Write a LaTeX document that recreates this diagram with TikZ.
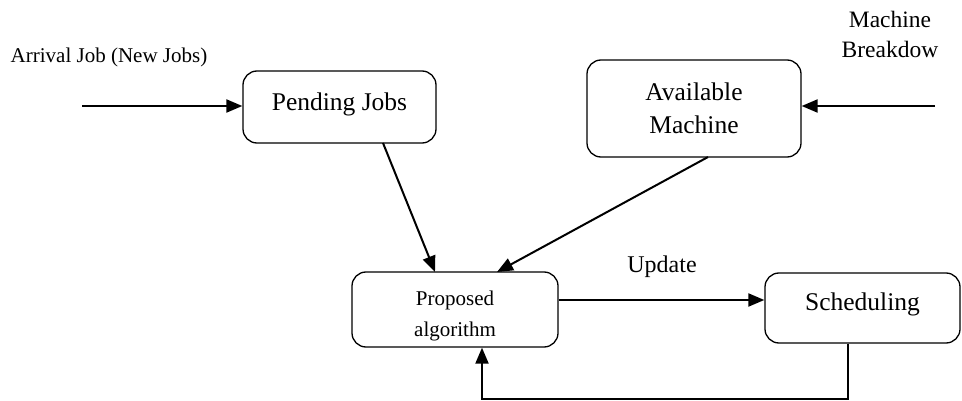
\documentclass[tikz,border=0pt]{standalone}
\usepackage{fontspec}
\setmainfont{Liberation Serif}
\usepackage{tikz}
\usetikzlibrary{arrows.meta}
\usetikzlibrary{calc}
\usetikzlibrary{positioning}

\begin{document}
\begin{tikzpicture}[x=1pt,y=-1pt,>={Triangle[length=16pt,width=13pt]},line width=2pt]
 				 \tikzstyle{box}=[draw, rounded corners=14pt, line width=1.3pt, inner sep=0pt, align=center]
 				 \tikzstyle{big}=[font=\fontsize{25.5}{33}\selectfont]
 				 \tikzstyle{small}=[font=\fontsize{21}{31}\selectfont]
 				 \tikzstyle{lbl}=[inner sep=0pt, align=center]
 				 \useasboundingbox (0,0) rectangle (962,401);
 					 \node[box,big,minimum width=193pt,minimum height=72pt,text depth=10pt] (P) at (339.5,107) {Pending Jobs};
 					 \node[box,big,minimum width=214pt,minimum height=97pt] (M) at (694,108.5) {Available\\Machine};
 					 \node[box,small,minimum width=206pt,minimum height=75pt] (A) at (455,309.5) {\rule{0pt}{28pt}Proposed\\algorithm};
 					 \node[box,big,minimum width=195pt,minimum height=70pt,text depth=12pt] (S) at (862.5,308) {Scheduling};
 					 \node[lbl,small,anchor=base] (J) at (109,63) {Arrival Job (New Jobs)};
 					 \node[lbl,font=\fontsize{23.5}{30}\selectfont] (B) at (890,34.5) {Machine\\Breakdow};
 					 \node[lbl,font=\fontsize{24}{30}\selectfont,anchor=base] (U) at (662,272) {Update};
 					 \coordinate (J0) at (82,106);
 					 \coordinate (B0) at (935,106);
 					 \coordinate (F) at (482,399);
				\draw[->] (J0) -- (J0 -| P.west);
				\draw[->] (B0) -- (B0 -| M.east);
				\draw[->] (383,143) -- (435,272);
				\draw[->] (708,157) -- (497,272);
				\draw[->] (A.east |- 0,300) -- (S.west |- 0,300);
				\draw[->] (S.south -| 848,0) |- (F) -- (F |- A.south);
\end{tikzpicture}
\end{document}
